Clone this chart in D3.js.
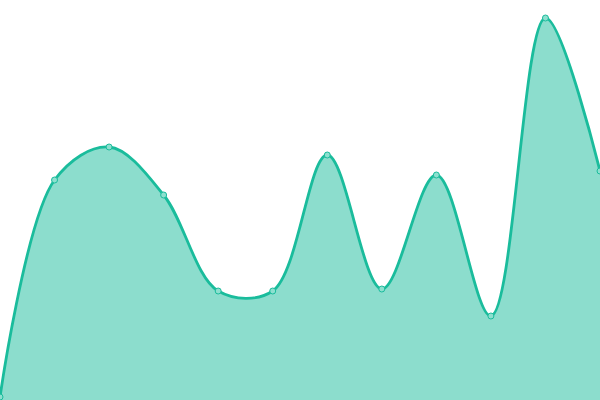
<!DOCTYPE html>
<html>
<head>
<meta charset="utf-8">
<script src="https://cdn.jsdelivr.net/npm/d3@7"></script>
<style>
  html, body { margin: 0; padding: 0; background: #fff; }
  svg { display: block; }
</style>
</head>
<body>
<div id="chart"></div>
<script>
// data
const categories = ["0","1","2","3","4","5","6","7","8","9","10","11"];
const values = [3, 220, 253, 205, 109, 109, 245, 111, 225, 84, 382, 229];

const w = 600;
const h = 400;

const xScale = d3.scalePoint()
    .domain(categories)
    .range([0, w]);

const yScale = d3.scaleLinear()
    .domain([0, 400])
    .range([h, 0]);

const svg = d3.select("#chart")
    .append("svg")
    .attr("width", w)
    .attr("height", h);

const points = categories.map((c, i) => ({cat: c, val: values[i]}));

//filled area under the curve
const area = d3.area()
    .x(d => xScale(d.cat))
    .y0(h)
    .y1(d => yScale(d.val))
    .curve(d3.curveCatmullRom);

svg.append("path")
    .datum(points)
    .attr("d", area)
    .style("fill", "#1abc9c")
    .style("fill-opacity", 0.5);

//line on top
const line = d3.line()
    .x(d => xScale(d.cat))
    .y(d => yScale(d.val))
    .curve(d3.curveCatmullRom);

svg.append("path")
    .datum(points)
    .attr("d", line)
    .style("fill", "none")
    .style("stroke", "#1abc9c")
    .style("stroke-width", 2.8);

//small dots at each value
svg.selectAll("circle")
    .data(points)
    .enter()
    .append("circle")
    .attr("cx", d => xScale(d.cat))
    .attr("cy", d => yScale(d.val))
    .attr("r", 3)
    .style("fill", "#8de0cf")
    .style("stroke", "#1abc9c")
    .style("stroke-width", 1);
</script>
</body>
</html>
